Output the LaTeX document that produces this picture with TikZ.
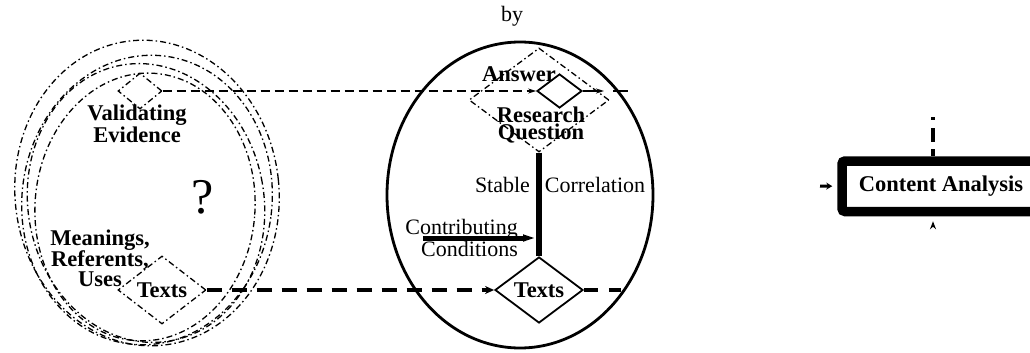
\documentclass[tikz,border=0pt]{standalone}
\usepackage{fontspec}
\setmainfont{Liberation Serif}
\usetikzlibrary{shapes.geometric,arrows.meta}
\begin{document}
\begin{tikzpicture}[x=1pt,y=1pt,
  bl/.style={font=\bfseries\fontsize{22.5}{17.5}\selectfont, align=center, inner sep=0},
  rg/.style={font=\fontsize{22}{22}\selectfont, inner sep=0},
  dd/.style={line width=1.3pt, dash pattern=on 6pt off 3pt on 1.5pt off 3pt},
  sd/.style={draw, line width=1.8pt},
  dia/.style={diamond, inner sep=0, aspect=1.3}
]
\useasboundingbox (0,0) rectangle (1030,-353);
\clip (0,0) rectangle (1030,-353);

% left dash-dot circles
\draw[dd, rotate around={6:(147,-193)}] (147,-193) ellipse [x radius=132, y radius=153];
\draw[dd, rotate around={-7:(147,-200)}] (147,-200) ellipse [x radius=125, y radius=145];
\draw[dd, rotate around={10:(146,-203)}] (146,-203) ellipse [x radius=118, y radius=140];
\draw[dd, rotate around={-4:(145,-207)}] (145,-207) ellipse [x radius=110, y radius=134];

\node[dia, dd, draw, minimum width=44, minimum height=36] (ve) at (140,-91) {};
\node[bl] (tve) at (137,-124) {Validating\\Evidence};
\node[font=\fontsize{50}{50}\selectfont, inner sep=0] (q) at (203,-197) {?};
\node[bl] (tmr) at (100,-258) {Meanings,\\Referents,\\Uses};
\node[dia, dd, draw, minimum width=88, minimum height=68, font=\bfseries\fontsize{22.5}{17.5}\selectfont] (tx1) at (162,-290) {Texts};

% middle ellipse
\node[ellipse, draw, line width=2.8pt, minimum width=266, minimum height=306, inner sep=0] (el) at (520,-195) {};
\node[rg] (tby) at (512,-16) {by};

\node[dia, dd, draw, minimum width=140, minimum height=104] (rq) at (539,-100) {};
\node[dia, sd, minimum width=45, minimum height=34] (ans) at (559.5,-91) {};
\node[bl] (tans) at (519,-74) {Answer};
\node[bl] (trq) at (541,-125) {Research\\Question};

\node[dia, sd, minimum width=88, minimum height=66, font=\bfseries\fontsize{22.5}{17.5}\selectfont] (tx2) at (539,-290) {Texts};

\draw[line width=6pt] (rq.south) -- (tx2.north);
\node[rg] (tst) at (502.5,-185) {Stable};
\node[rg] (tco) at (595,-185) {Correlation};
\node[rg, align=right, anchor=east] (tcc) at (518,-238) {Contributing\\Conditions};
\coordinate (c1) at (423,-238);
\coordinate (c2) at (537,-238);
\draw[line width=5pt, -{Triangle[length=14pt,width=6pt]}] (c1) -- (c2);

% top dashed connector
\draw[line width=1.3pt, dash pattern=on 9pt off 5pt, -{Stealth[length=8pt,width=5pt]}] (ve.east) -- (ans.west);
\coordinate (a1) at (604,-91);
\coordinate (a2) at (613,-91);
\coordinate (a3) at (628,-91);
\draw[line width=1.5pt, -{Stealth[length=8pt,width=5pt]}] (ans.east) -- (a1);
\draw[line width=1.8pt] (a2) -- (a3);

% bottom dashed connector
\draw[line width=4pt, dash pattern=on 15pt off 10pt, -{Stealth[length=9pt,width=8pt]}] (tx1.east) -- (tx2.west);
\coordinate (b1) at (621,-290);
\draw[line width=4pt, dash pattern=on 14pt off 11pt] (tx2.east) -- (b1);

% content analysis box
\node[draw, line width=9.5pt, rounded corners=3pt, minimum width=198, minimum height=50.5, inner sep=0,
      font=\bfseries\fontsize{22.5}{17.5}\selectfont] (ca) at (941,-186.25) {Content Analysis};
\coordinate (l1) at (820,-186);
\draw[line width=3pt, shorten >=5pt, -{Stealth[length=6pt,width=7pt]}] (l1) -- (ca.west);
\coordinate (cb) at (933,-227);
\draw[line width=1.5pt, shorten >=5pt, -{Stealth[length=8pt,width=6pt]}] (cb) -- (cb |- ca.south);
\coordinate (ct) at (933,-117);
\draw[line width=4pt, dash pattern=on 3pt off 8pt on 14pt off 7pt on 20pt off 0pt] (ct) -- (ct |- ca.north);
\end{tikzpicture}
\end{document}
